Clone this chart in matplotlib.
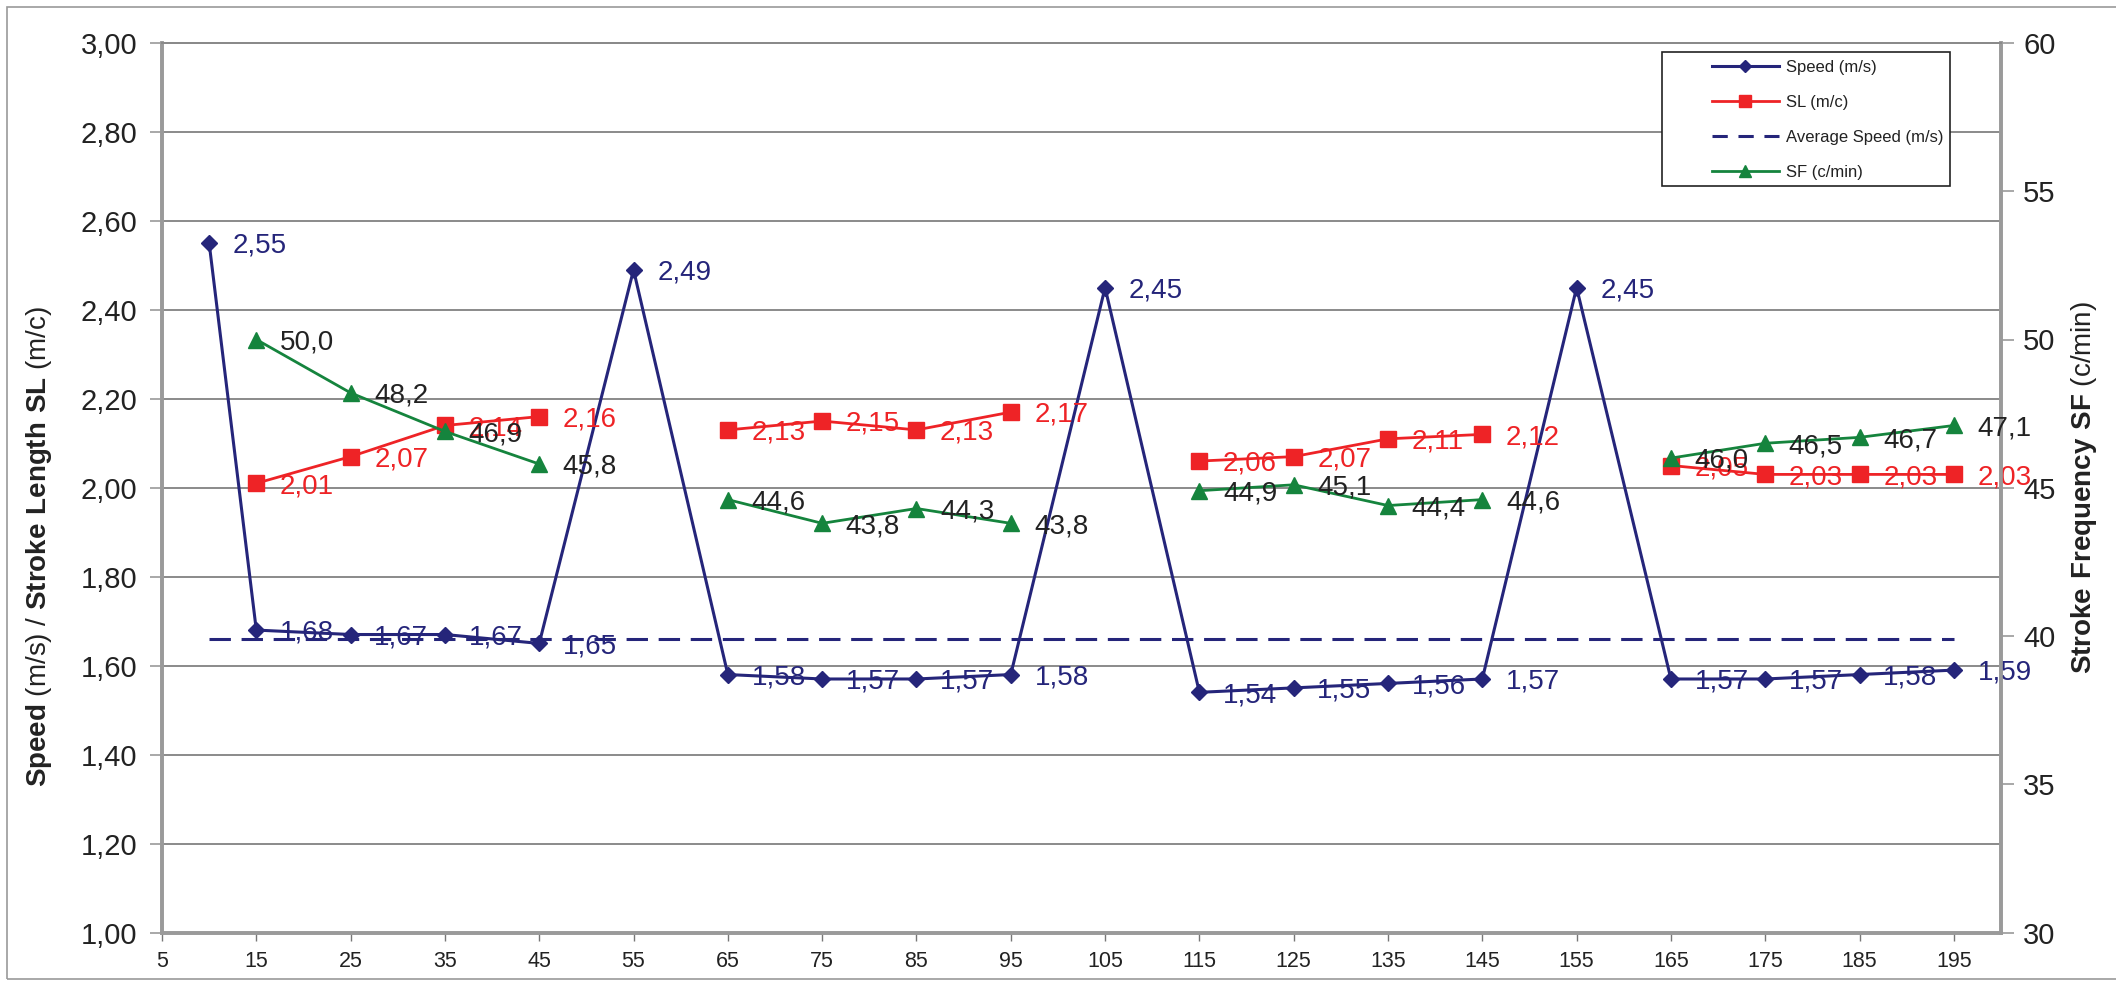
import numpy as np
import matplotlib
matplotlib.use("Agg")
import matplotlib.pyplot as plt
from matplotlib.lines import Line2D
from matplotlib.patches import Rectangle
from matplotlib.ticker import FixedLocator, FuncFormatter

plt.rcParams['font.family'] = ['Liberation Sans', 'DejaVu Sans']
plt.rcParams['mathtext.fontset'] = 'custom'
plt.rcParams['mathtext.rm'] = 'Liberation Sans'
plt.rcParams['mathtext.bf'] = 'Liberation Sans:bold'

# ---------------- data ----------------
distance = [10, 15, 25, 35, 45, 55, 65, 75, 85, 95, 105, 115, 125, 135, 145, 155, 165, 175, 185, 195]
speed = [2.55, 1.68, 1.67, 1.67, 1.65, 2.49, 1.58, 1.57, 1.57, 1.58, 2.45,
         1.54, 1.55, 1.56, 1.57, 2.45, 1.57, 1.57, 1.58, 1.59]
nan = np.nan
stroke_length = [nan, 2.01, 2.07, 2.14, 2.16, nan, 2.13, 2.15, 2.13, 2.17, nan,
                 2.06, 2.07, 2.11, 2.12, nan, 2.05, 2.03, 2.03, 2.03]
stroke_freq = [nan, 50.0, 48.2, 46.9, 45.8, nan, 44.6, 43.8, 44.3, 43.8, nan,
               44.9, 45.1, 44.4, 44.6, nan, 46.0, 46.5, 46.7, 47.1]
average_speed = 1.66

x_ticks = [5, 15, 25, 35, 45, 55, 65, 75, 85, 95, 105, 115, 125, 135, 145, 155, 165, 175, 185, 195]
left_ticks = [1.00, 1.20, 1.40, 1.60, 1.80, 2.00, 2.20, 2.40, 2.60, 2.80, 3.00]
right_ticks = [30, 35, 40, 45, 50, 55, 60]

NAVY = '#25257a'
RED = '#ee2326'
GREEN = '#15843d'
TXT = '#222222'
GRID = '#8a8a8a'

W, H = 2116, 986
fig = plt.figure(figsize=(W / 100, H / 100), dpi=100)
left_px, right_px, top_px, bot_px = 162, 2001, 43, 932.5
ax = fig.add_axes([left_px / W, 1 - bot_px / H, (right_px - left_px) / W, (bot_px - top_px) / H])
ax2 = ax.twinx()

# outer border
fig.patches.append(Rectangle((7 / W, 7 / H), 1.2, 1 - 14 / H, transform=fig.transFigure,
                             fill=False, edgecolor='#9a9a9a', lw=1.2, zorder=0))

def comma(v, digits):
    return f"{v:.{digits}f}".replace('.', ',')

# speed
ax.plot(distance, speed, color=NAVY, lw=2.2, marker='D', ms=8.5, mfc=NAVY, mec=NAVY, zorder=4)
# average speed
ax.plot([distance[0], distance[-1]], [average_speed, average_speed], color=NAVY, lw=2.2,
        dashes=(7, 3.5), zorder=3)
# stroke length
ax.plot(distance, stroke_length, color=RED, lw=2.0, marker='s', ms=11, mfc=RED, mec=RED, zorder=3)
# stroke frequency
ax2.plot(distance, stroke_freq, color=GREEN, lw=2.0, marker='^', ms=12, mfc=GREEN, mec=GREEN, zorder=3)

lab_fs = 20
for xv, yv in zip(distance, speed):
    ax.annotate(comma(yv, 2), (xv, yv), xytext=(17, -2), textcoords='offset points',
                ha='left', va='center', fontsize=lab_fs, color=NAVY, zorder=5)
for xv, yv in zip(distance, stroke_length):
    if not np.isnan(yv):
        ax.annotate(comma(yv, 2), (xv, yv), xytext=(17, -2), textcoords='offset points',
                    ha='left', va='center', fontsize=lab_fs, color=RED, zorder=5)
for xv, yv in zip(distance, stroke_freq):
    if not np.isnan(yv):
        ax2.annotate(comma(yv, 1), (xv, yv), xytext=(17, -2), textcoords='offset points',
                     ha='left', va='center', fontsize=lab_fs, color=TXT, zorder=5)

# axes ranges & ticks
ax.set_xlim(5, 200)
ax.set_ylim(left_ticks[0], left_ticks[-1])
ax2.set_ylim(right_ticks[0], right_ticks[-1])
ax.xaxis.set_major_locator(FixedLocator(x_ticks))
ax.set_xticklabels([str(t) for t in x_ticks])
ax.yaxis.set_major_locator(FixedLocator(left_ticks))
ax.yaxis.set_major_formatter(FuncFormatter(lambda v, p: comma(v, 2)))
ax2.yaxis.set_major_locator(FixedLocator(right_ticks))
ax2.set_yticklabels([str(t) for t in right_ticks])

ax.yaxis.grid(True, color=GRID, lw=1.4)
ax.set_axisbelow(True)

for a in (ax, ax2):
    for s in ['left', 'right', 'bottom']:
        a.spines[s].set_color('#9a9a9a')
        a.spines[s].set_linewidth(2.6)
    a.spines['top'].set_color(GRID)
    a.spines['top'].set_linewidth(1.4)

ax.tick_params(axis='y', labelsize=21, colors='#9a9a9a', labelcolor=TXT, length=9, width=1.2, pad=9)
ax2.tick_params(axis='y', labelsize=21, colors='#9a9a9a', labelcolor=TXT, length=9, width=1.2, pad=7)
ax.tick_params(axis='x', colors='#777777', labelcolor=TXT, length=6, width=1.0, pad=7)
for lbl in ax.get_xticklabels():
    lbl.set_fontfamily(['Liberation Sans Narrow', 'Liberation Sans'])
    lbl.set_fontsize(15.5)

ax.set_ylabel(r'$\mathbf{Speed}$ (m/s) / $\mathbf{Stroke\ Length\ SL}$ (m/c)',
              fontsize=20, color=TXT)
ax.yaxis.set_label_coords((54 - left_px) / (right_px - left_px), (bot_px - 547) / (bot_px - top_px))
ax2.set_ylabel(r'$\mathbf{Stroke\ Frequency\ SF}$ (c/min)', fontsize=20, color=TXT)
ax2.yaxis.set_label_coords((2069 - left_px) / (right_px - left_px), (bot_px - 487) / (bot_px - top_px))

# legend
handles = [
    Line2D([], [], color=NAVY, lw=2.2, marker='D', ms=6.5, mfc=NAVY, mec=NAVY),
    Line2D([], [], color=RED, lw=2.0, marker='s', ms=8, mfc=RED, mec=RED),
    Line2D([], [], color=NAVY, lw=2.2, dashes=(5, 3.5)),
    Line2D([], [], color=GREEN, lw=2.0, marker='^', ms=9, mfc=GREEN, mec=GREEN),
]
labels = ['Speed (m/s)', 'SL (m/c)', 'Average Speed (m/s)', 'SF (c/min)']
axw, axh = right_px - left_px, bot_px - top_px
box = Rectangle(((1662 - left_px) / axw, (bot_px - 186) / axh), (1950 - 1662) / axw, (186 - 52) / axh,
                transform=ax2.transAxes, facecolor='white', edgecolor='#222222', lw=1.2, zorder=20)
ax2.add_patch(box)
leg = ax2.legend(handles, labels, loc='upper left',
                 bbox_to_anchor=((1712 - left_px) / axw, (bot_px - 60) / axh),
                 frameon=False, fontsize=12, labelspacing=1.2, handlelength=4.0,
                 handletextpad=0.45, borderpad=0, borderaxespad=0, numpoints=1)
leg.set_zorder(21)
for t in leg.get_texts():
    t.set_color(TXT)

fig.savefig('out.png', dpi=100, facecolor='white')
